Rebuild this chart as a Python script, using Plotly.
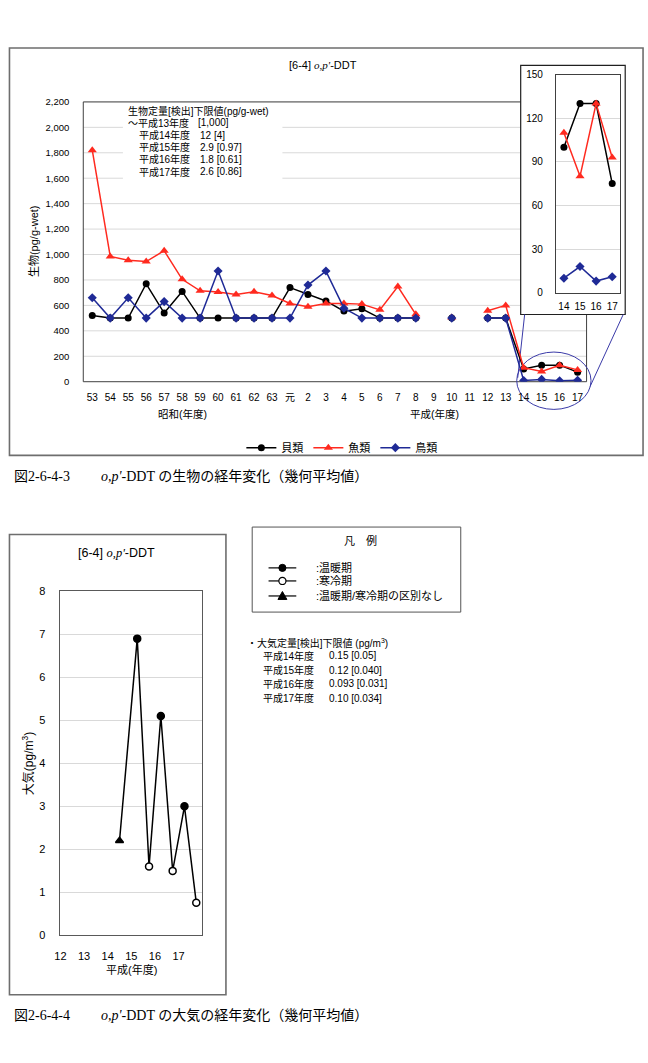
import plotly.graph_objects as go

W, H = 648, 1063


def X(px):
    return px / W


def Y(py):
    return 1 - py / H


SANS = "Liberation Sans, Noto Sans CJK JP, sans-serif"
SERIF = "Liberation Serif, Noto Sans CJK JP, serif"

# ---------------- data: biota (pg/g-wet) ----------------
categories = ["53", "54", "55", "56", "57", "58", "59", "60", "61", "62", "63",
              "元", "2", "3", "4", "5", "6", "7", "8", "9", "10", "11", "12", "13",
              "14", "15", "16", "17"]
shellfish = [520, 500, 500, 770, 540, 710, 500, 500, 500, 500, 500,
             740, 685, 635, 555, 573, 500, 500, 500, None, 500, None, 500, 500,
             100, 130, 130, 75]
fish = [1820, 985, 955, 945, 1030, 805, 715, 705, 685, 708, 678,
        615, 590, 615, 615, 610, 565, 748, 530, None, 505, None, 558, 600,
        110, 80, 130, 93]
birds = [660, 500, 660, 500, 630, 500, 500, 870, 500, 500, 500,
         500, 760, 870, 578, 500, 500, 500, 500, None, 500, None, 500, 500,
         10, 18, 8, 11]
series_names = ["貝類", "魚類", "鳥類"]
inset_labels = ["14", "15", "16", "17"]

# ---------------- data: air (pg/m3) ----------------
air_x = [14.5, 15.25, 15.75, 16.25, 16.75, 17.25, 17.75]
air_y = [2.2, 6.9, 1.6, 5.1, 1.5, 3.0, 0.76]
air_season = ["none", "warm", "cold", "warm", "cold", "warm", "cold"]
air_ticks = [12, 13, 14, 15, 16, 17]

bio_limits = [("～平成13年度", "[1,000]"), ("平成14年度", "12 [4]"), ("平成15年度", "2.9 [0.97]"),
              ("平成16年度", "1.8 [0.61]"), ("平成17年度", "2.6 [0.86]")]
air_limits = [("平成14年度", "0.15 [0.05]"), ("平成15年度", "0.12 [0.040]"),
              ("平成16年度", "0.093 [0.031]"), ("平成17年度", "0.10 [0.034]")]

RED = "#ff2a1f"
BLUE = "#1f2a96"
BLACK = "#000000"
styles = [
    dict(color=BLACK, symbol="circle", size=7),
    dict(color=RED, symbol="triangle-up", size=8),
    dict(color=BLUE, symbol="diamond", size=7),
]

fig = go.Figure()
xs = list(range(len(categories)))

# main chart traces
for name, vals, st in zip(series_names, [shellfish, fish, birds], styles):
    fig.add_trace(go.Scatter(
        x=xs, y=vals, name=name, mode="lines+markers", connectgaps=False,
        line=dict(color=st["color"], width=1.5),
        marker=dict(color=st["color"], symbol=st["symbol"], size=st["size"]),
        xaxis="x", yaxis="y"))

# inset traces (last 4 years)
for name, vals, st in zip(series_names, [shellfish, fish, birds], styles):
    fig.add_trace(go.Scatter(
        x=list(range(4)), y=vals[-4:], name=name, mode="lines+markers", showlegend=False,
        line=dict(color=st["color"], width=1.5),
        marker=dict(color=st["color"], symbol=st["symbol"], size=st["size"]),
        xaxis="x2", yaxis="y2"))

# air trace
sym_map = {"warm": "circle", "cold": "circle", "none": "triangle-up"}
col_map = {"warm": "black", "cold": "white", "none": "black"}
fig.add_trace(go.Scatter(
    x=air_x, y=air_y, mode="lines+markers", showlegend=False,
    line=dict(color="black", width=1.5),
    marker=dict(symbol=[sym_map[s] for s in air_season],
                color=[col_map[s] for s in air_season],
                size=7, line=dict(color="black", width=1.5)),
    xaxis="x3", yaxis="y3"))

# ---------------- axes ----------------
MX0, MX1, MY0, MY1 = 78, 586, 97, 380
IX0, IX1, IY0, IY1 = 555, 620, 69.3, 290
BX0, BX1, BY0, BY1 = 55, 198, 592, 940

tickfont = dict(family=SANS, size=10, color="#000")
fig.update_layout(
    xaxis=dict(domain=[X(MX0), X(MX1)], range=[-0.5, len(categories) - 0.5],
               tickvals=xs, ticktext=categories, showgrid=False, showline=False,
               zeroline=False, ticks="", tickfont=tickfont, ticklabelstandoff=8,
               anchor="y", fixedrange=True),
    yaxis=dict(domain=[Y(MY1), Y(MY0)], range=[0, 2200], dtick=200, tickformat=",d",
               showgrid=False, showline=False, zeroline=False, ticks="",
               tickfont=dict(family=SANS, size=9.5, color="#000"),
               ticklabelstandoff=13, anchor="x"),
    xaxis2=dict(domain=[X(IX0), X(IX1)], range=[-0.5, 3.5], tickvals=list(range(4)),
                ticktext=inset_labels, showgrid=False, showline=True, mirror=True,
                linecolor="#404040", linewidth=1, zeroline=False, ticks="",
                tickfont=tickfont, ticklabelstandoff=4, anchor="y2"),
    yaxis2=dict(domain=[Y(IY1), Y(IY0)], range=[0, 150], dtick=30,
                showgrid=True, gridcolor="#d9d9d9", showline=True, mirror=True,
                linecolor="#404040", linewidth=1, zeroline=False, ticks="",
                tickfont=tickfont, ticklabelstandoff=10, anchor="x2"),
    xaxis3=dict(domain=[X(BX0), X(BX1)], range=[12, 18], tickvals=air_ticks,
                showgrid=False, showline=True, mirror=True, linecolor="#595959",
                linewidth=1, zeroline=False, ticks="",
                tickfont=dict(family=SANS, size=11, color="#000"),
                ticklabelstandoff=10, anchor="y3"),
    yaxis3=dict(domain=[Y(BY1), Y(BY0)], range=[0, 8], dtick=1,
                showgrid=True, gridcolor="#d9d9d9", showline=True, mirror=True,
                linecolor="#595959", linewidth=1, zeroline=False, ticks="",
                tickfont=dict(family=SANS, size=11, color="#000"),
                ticklabelstandoff=12, anchor="x3"),
)

# ---------------- shapes ----------------
shapes = []
# main gridlines (using y scale)
for v in range(200, 2201, 200):
    shapes.append(dict(type="line", xref="paper", yref="y", x0=X(MX0), x1=X(MX1),
                       y0=v, y1=v, line=dict(color="#d9d9d9", width=1), layer="below"))
# main plot box
BOXC = "#404040"
for (x0, y0, x1, y1) in [(MX0, MY0, MX0, MY1), (MX0, MY1, MX1, MY1),
                         (MX0, MY0, MX1, MY0), (MX1, MY0, MX1, MY1)]:
    shapes.append(dict(type="line", xref="paper", yref="paper", x0=X(x0), y0=Y(y0),
                       x1=X(x1), y1=Y(y1), line=dict(color=BOXC, width=1), layer="below"))
# white background behind the detection-limit note
shapes.append(dict(type="rect", xref="paper", yref="paper", x0=X(118), x1=X(279),
                   y0=Y(99), y1=Y(177), fillcolor="white", line=dict(width=0), layer="below"))
# inset frame
shapes.append(dict(type="rect", xref="paper", yref="paper", x0=X(519.5), x1=X(625),
                   y0=Y(60), y1=Y(312), fillcolor="white",
                   line=dict(color="#202020", width=1.2), layer="below"))
# ellipse and callout lines
shapes.append(dict(type="circle", xref="paper", yref="paper", x0=X(515.5), x1=X(590.5),
                   y0=Y(350), y1=Y(408), line=dict(color="#3a3aa8", width=1), layer="below"))
shapes.append(dict(type="line", xref="paper", yref="paper", x0=X(523.5), y0=Y(312),
                   x1=X(516.5), y1=Y(376), line=dict(color="#3a3aa8", width=1), layer="below"))
shapes.append(dict(type="line", xref="paper", yref="paper", x0=X(623), y0=Y(312),
                   x1=X(589.5), y1=Y(385), line=dict(color="#3a3aa8", width=1), layer="below"))
# outer frames
shapes.append(dict(type="rect", xref="paper", yref="paper", x0=X(3.5), x1=X(643),
                   y0=Y(42.5), y1=Y(454.5), line=dict(color="#6e6e6e", width=1.6), layer="below"))
shapes.append(dict(type="rect", xref="paper", yref="paper", x0=X(3.5), x1=X(222),
                   y0=Y(534.5), y1=Y(1000), line=dict(color="#6e6e6e", width=1.6), layer="below"))
# air legend box
shapes.append(dict(type="rect", xref="paper", yref="paper", x0=X(248.5), x1=X(459),
                   y0=Y(527), y1=Y(613), line=dict(color="#555555", width=1), layer="below"))
legend_rows = [568.3, 581.5, 596.7]
for ry in legend_rows:
    shapes.append(dict(type="line", xref="paper", yref="paper", x0=X(265), x1=X(293),
                       y0=Y(ry), y1=Y(ry), line=dict(color="black", width=1.2), layer="below"))
r = 3.6
shapes.append(dict(type="circle", xref="paper", yref="paper", x0=X(279 - r), x1=X(279 + r),
                   y0=Y(legend_rows[0] - r), y1=Y(legend_rows[0] + r), fillcolor="black",
                   line=dict(color="black", width=1), layer="below"))
shapes.append(dict(type="circle", xref="paper", yref="paper", x0=X(279 - r), x1=X(279 + r),
                   y0=Y(legend_rows[1] - r), y1=Y(legend_rows[1] + r), fillcolor="white",
                   line=dict(color="black", width=1.2), layer="below"))
ty = legend_rows[2]
tri = "M {},{} L {},{} L {},{} Z".format(X(279), Y(ty - 4.5), X(283.5), Y(ty + 3.5), X(274.5), Y(ty + 3.5))
shapes.append(dict(type="path", xref="paper", yref="paper", path=tri, fillcolor="black",
                   line=dict(color="black", width=1), layer="below"))

# ---------------- annotations ----------------
ann = []


def txt(x, y, text, size=10, family=SANS, xanchor="left", angle=0, color="#000"):
    ann.append(dict(x=X(x), y=Y(y), xref="paper", yref="paper", text=text, showarrow=False,
                    xanchor=xanchor, yanchor="middle", textangle=angle,
                    font=dict(family=family, size=size, color=color), borderpad=0))


title_html = ("[6-4] <span style='font-family:Liberation Serif'><i>o,p'</i></span>-DDT")
txt(320, 60, title_html, size=11, xanchor="center")
txt(28, 238, "生物(pg/g-wet)", size=11, xanchor="center", angle=-90)
txt(178, 413, "昭和(年度)", size=10.5, xanchor="center")
txt(432, 413, "平成(年度)", size=10.5, xanchor="center")

# biota detection-limit note
txt(122, 105.7, "生物定量[検出]下限値(pg/g-wet)", size=10)
note_y = [118.3, 130.5, 142.8, 155.2, 167.6]
for i, (lab, val) in enumerate(bio_limits):
    txt(122 if i == 0 else 133, note_y[i], lab, size=10)
    txt(193 if i == 0 else 195, note_y[i], val, size=10)

# captions
txt(7, 476, "図2-6-4-3", size=14, family=SERIF)
txt(95, 476, "<i>o,p'</i>-DDT の生物の経年変化（幾何平均値）", size=14, family=SERIF)
txt(7, 1021, "図2-6-4-4", size=14, family=SERIF)
txt(95, 1021, "<i>o,p'</i>-DDT の大気の経年変化（幾何平均値）", size=14, family=SERIF)

# air chart texts
txt(112, 553, title_html, size=12.5, xanchor="center")
txt(23, 766, "大気(pg/m<sup>3</sup>)", size=12, xanchor="center", angle=-90)
txt(127, 974, "平成(年度)", size=11, xanchor="center")

# air legend box texts
txt(358, 541, "凡　例", size=11, xanchor="center")
for ry, label in zip(legend_rows, [":温暖期", ":寒冷期", ":温暖期/寒冷期の区別なし"]):
    txt(312, ry, label, size=11)

# air detection limits
txt(242, 644, "・大気定量[検出]下限値 (pg/m<sup>3</sup>)", size=10)
air_y_rows = [657, 671.7, 685.5, 700]
for ry, (lab, val) in zip(air_y_rows, air_limits):
    txt(258, ry, lab, size=10)
    txt(325, ry, val, size=10)

fig.update_layout(
    width=W, height=H, autosize=False,
    margin=dict(l=0, r=0, t=0, b=0),
    paper_bgcolor="white", plot_bgcolor="rgba(0,0,0,0)",
    shapes=shapes, annotations=ann,
    showlegend=True,
    legend=dict(orientation="h", x=X(339), xanchor="center", y=Y(446.7), yanchor="middle",
                font=dict(family=SANS, size=11, color="#000"), bgcolor="rgba(0,0,0,0)",
                itemwidth=30, tracegroupgap=0),
    font=dict(family=SANS),
)

fig.write_html("out.html", config={"displayModeBar": False})
